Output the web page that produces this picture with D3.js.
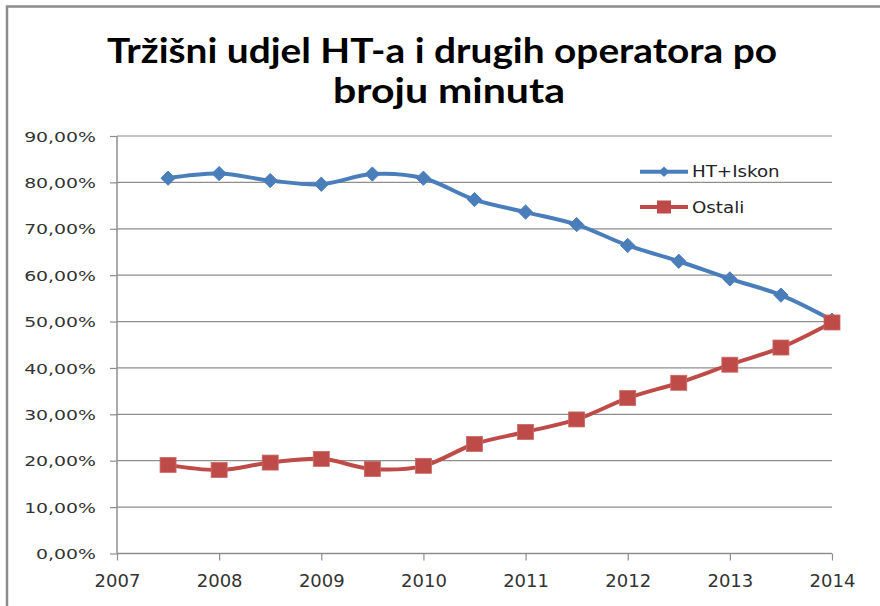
<!DOCTYPE html>
<html>
<head>
<meta charset="utf-8">
<script src="https://cdn.jsdelivr.net/npm/d3@7"></script>
<style>
  html, body { margin: 0; padding: 0; background: #fff; }
  svg { display: block; }
</style>
</head>
<body>
<svg id="chart" width="880" height="606"></svg>
<script>
const titleLines = ["Tržišni udjel HT-a i drugih operatora po", "broju minuta"];
const periods = [2007.5, 2008, 2008.5, 2009, 2009.5, 2010, 2010.5, 2011, 2011.5, 2012, 2012.5, 2013, 2013.5, 2014];
const htIskon = [80.9, 81.9, 80.4, 79.6, 81.8, 80.9, 76.3, 73.6, 70.9, 66.4, 63.0, 59.2, 55.7, 50.3];
const ostali  = [19.1, 18.0, 19.6, 20.4, 18.2, 18.9, 23.6, 26.2, 28.9, 33.5, 36.8, 40.7, 44.4, 49.8];
const seriesNames = ["HT+Iskon", "Ostali"];
const xTicks = [2007, 2008, 2009, 2010, 2011, 2012, 2013, 2014];
const yTicks = [0, 10, 20, 30, 40, 50, 60, 70, 80, 90];

const svg = d3.select("#chart");
const W = 880, H = 606;
const plot = {left: 117, right: 832, top: 136, bottom: 553.5};

// Outer border (clipped at right/bottom as in the reference)
svg.append("path")
  .attr("d", `M7,${H + 5} V6.5 H${W + 5}`)
  .attr("fill", "none").attr("stroke", "#8c8c8c").attr("stroke-width", 2.5);

// Title
const title = svg.append("g").attr("font-family", "Lato, 'Open Sans', sans-serif")
  .attr("font-weight", "bold").attr("fill", "#000").attr("font-size", 35);
const titleWidths = [670, 232];
const titleY = [63, 103];
const titleX = [442, 449];
titleLines.forEach((t, i) => {
  title.append("text").attr("x", titleX[i]).attr("y", titleY[i])
    .attr("text-anchor", "middle")
    .attr("textLength", titleWidths[i]).attr("lengthAdjust", "spacingAndGlyphs")
    .text(t);
});

const x = d3.scaleLinear().domain([2007, 2014]).range([plot.left, plot.right]);
const y = d3.scaleLinear().domain([0, 90]).range([plot.bottom, plot.top]);

// Gridlines
svg.append("g").selectAll("line").data(yTicks).join("line")
  .attr("x1", plot.left).attr("x2", plot.right)
  .attr("y1", d => y(d)).attr("y2", d => y(d))
  .attr("stroke", "#8e8e8e").attr("stroke-width", 1.2);

// Y axis
const yAxis = svg.append("g").attr("transform", `translate(${plot.left},0)`)
  .call(d3.axisLeft(y).tickValues(yTicks).tickSize(7).tickPadding(14)
    .tickFormat(d => d.toFixed(2).replace(".", ",") + "%"));
yAxis.select(".domain").attr("stroke", "#8e8e8e").attr("stroke-width", 1.5)
  .attr("d", `M-0,${y(90)}V${y(0)}`);
yAxis.selectAll(".tick line").attr("stroke", "#8e8e8e").attr("stroke-width", 1.2);
yAxis.selectAll(".tick text")
  .attr("font-family", "'DejaVu Sans', Verdana, sans-serif").attr("font-size", 14.5)
  .attr("fill", "#333").attr("dy", "0.35em")
  .each(function() {
    const w = this.getComputedTextLength();
    d3.select(this).attr("textLength", w * 1.3).attr("lengthAdjust", "spacingAndGlyphs");
  });

// X axis
const xAxis = svg.append("g").attr("transform", `translate(0,${plot.bottom})`)
  .call(d3.axisBottom(x).tickValues(xTicks).tickSize(7).tickPadding(14)
    .tickFormat(d3.format("d")));
xAxis.select(".domain").attr("stroke", "#8e8e8e").attr("stroke-width", 1.5)
  .attr("d", `M${plot.left},0H${plot.right}`);
xAxis.selectAll(".tick line").attr("stroke", "#8e8e8e").attr("stroke-width", 1.2);
xAxis.selectAll(".tick text")
  .attr("font-family", "'DejaVu Sans', Verdana, sans-serif").attr("font-size", 18)
  .attr("fill", "#333");

// Series
const colors = ["#4A7EBB", "#BE4B48"];
const data = [htIskon, ostali];
const line = d3.line().x((d, i) => x(periods[i])).y(d => y(d))
  .curve(d3.curveCatmullRom.alpha(0.5));

data.forEach((vals, s) => {
  svg.append("path").datum(vals).attr("d", line)
    .attr("fill", "none").attr("stroke", colors[s]).attr("stroke-width", 4)
    .attr("stroke-linejoin", "round");
});

// HT+Iskon markers
svg.append("g").selectAll("path").data(htIskon).join("path")
  .attr("transform", (d, i) => `translate(${x(periods[i])},${y(d)})`)
  .attr("d", d3.symbol().type(d3.symbolDiamond2).size(130)())
  .attr("fill", colors[0]).attr("stroke", colors[0]).attr("stroke-width", 1);

// Ostali markers
svg.append("g").selectAll("rect").data(ostali).join("rect")
  .attr("x", (d, i) => x(periods[i]) - 8).attr("y", d => y(d) - 7.5)
  .attr("width", 16).attr("height", 15)
  .attr("fill", colors[1]).attr("stroke", "#c86a67").attr("stroke-width", 0.8);

// Legend
const legend = svg.append("g");
const legY = [171.7, 207];
seriesNames.forEach((name, i) => {
  const g = legend.append("g").attr("transform", `translate(0,${legY[i]})`);
  g.append("line").attr("x1", 640).attr("x2", 688).attr("y1", 0).attr("y2", 0)
    .attr("stroke", colors[i]).attr("stroke-width", 4);
  if (i === 0) {
    g.append("path").attr("transform", "translate(664,0)")
      .attr("d", d3.symbol().type(d3.symbolDiamond2).size(70)())
      .attr("fill", colors[0]);
  } else {
    g.append("rect").attr("x", 657).attr("y", -6.5).attr("width", 14).attr("height", 13)
      .attr("fill", colors[1]);
  }
  const t = g.append("text").attr("x", 692).attr("y", 0).attr("dy", "0.36em")
    .attr("font-family", "'DejaVu Sans', Verdana, sans-serif").attr("font-size", 16)
    .attr("fill", "#222").text(name);
  const w = t.node().getComputedTextLength();
  t.attr("textLength", w * 1.14).attr("lengthAdjust", "spacingAndGlyphs");
});
</script>
</body>
</html>
